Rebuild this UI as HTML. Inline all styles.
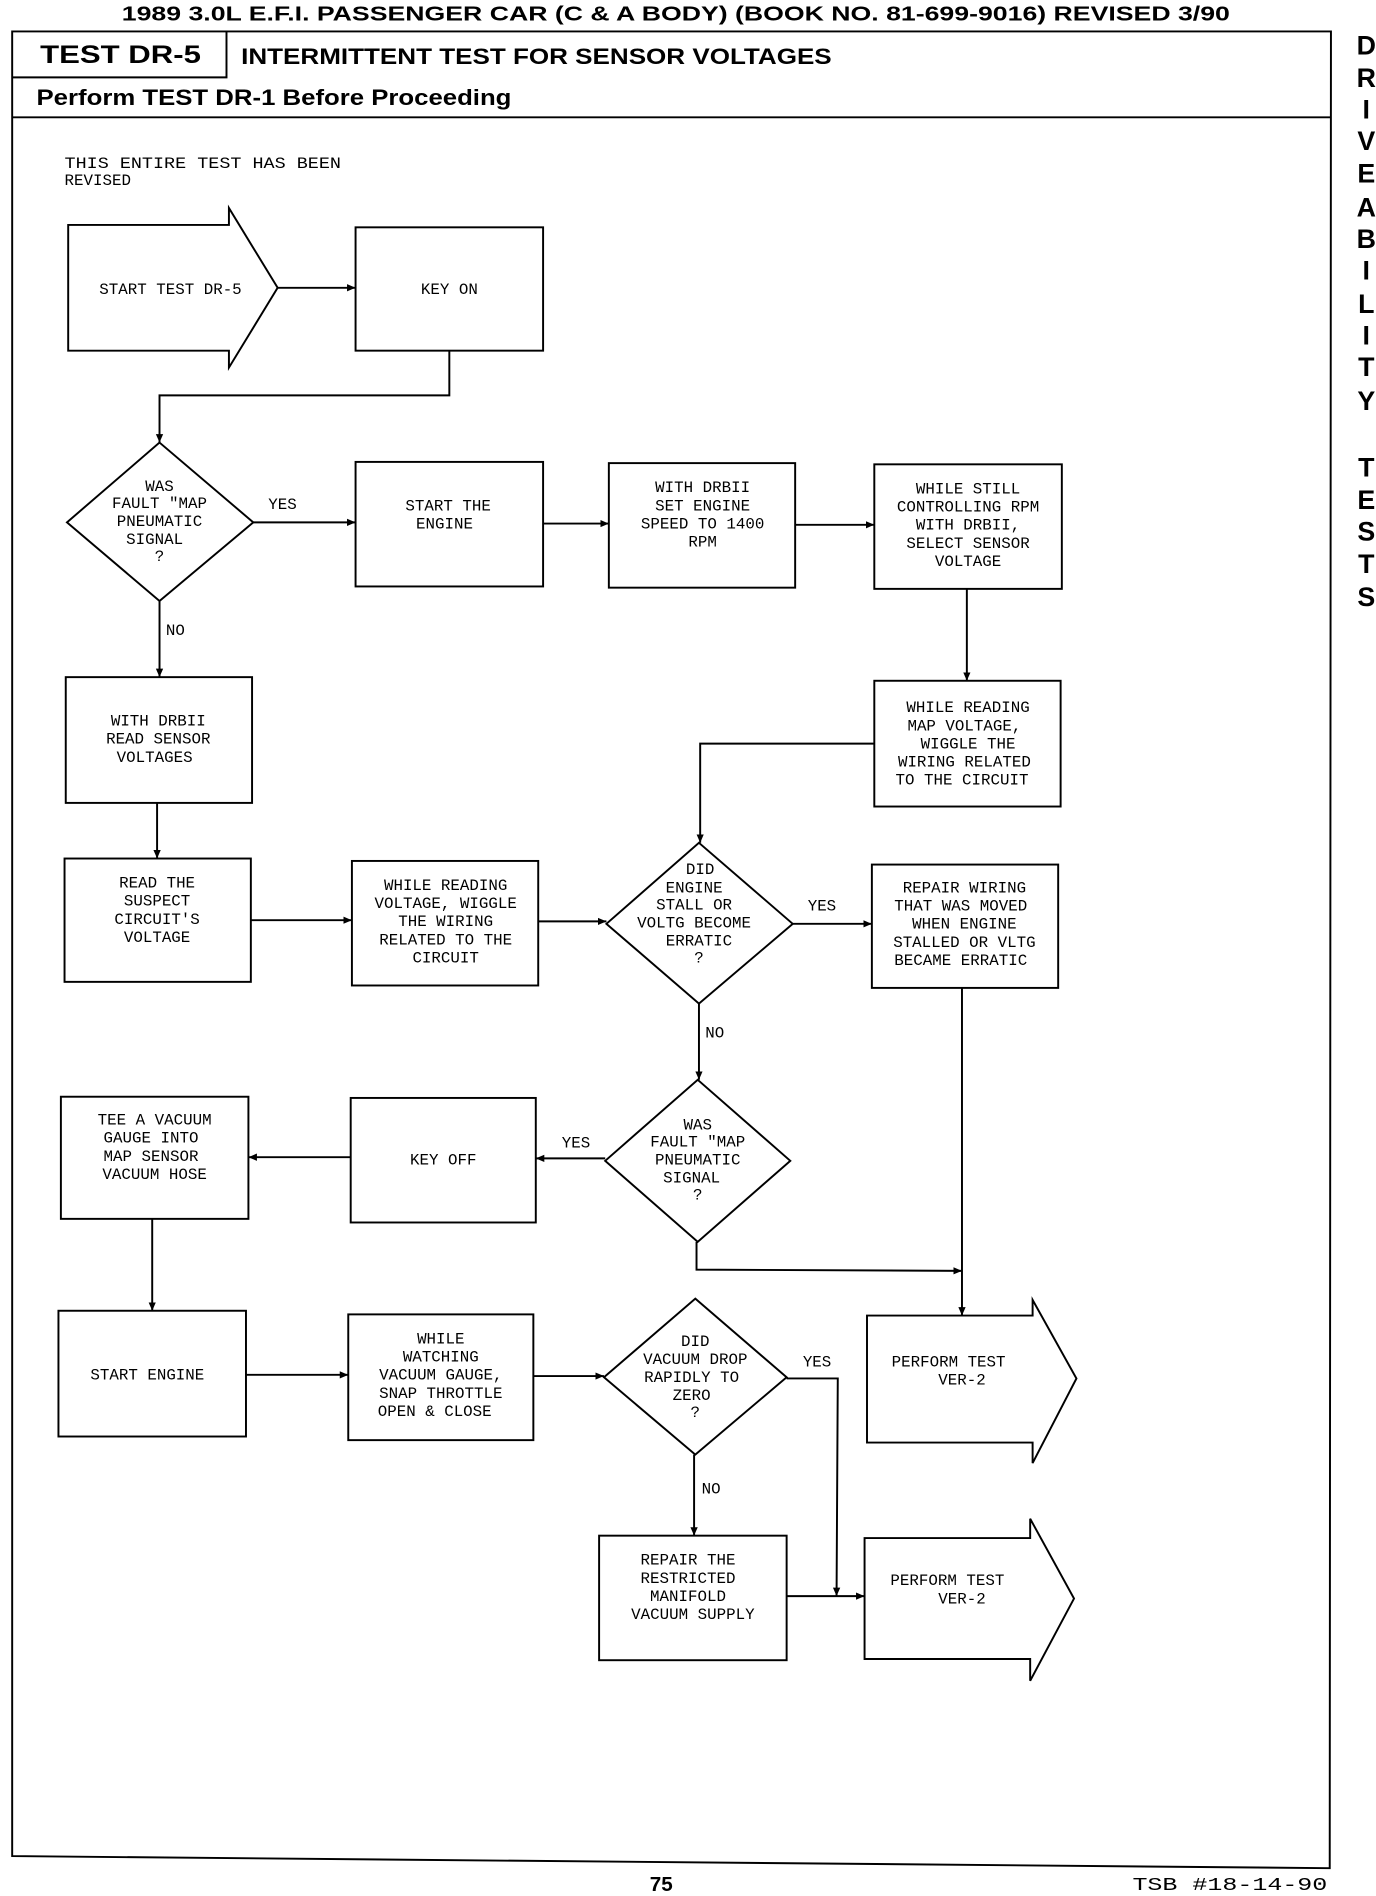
<!DOCTYPE html>
<html><head><meta charset="utf-8"><style>
html,body{margin:0;padding:0;background:#fff;}
svg{display:block;}
.t{font-family:"Liberation Mono",monospace;font-size:13px;text-anchor:middle;fill:#000;}
.h{font-family:"Liberation Sans",sans-serif;font-weight:bold;fill:#000;}
.s{stroke:#000;stroke-width:1.6;fill:none;}
</style></head><body>
<svg width="1376" height="1896" viewBox="0 0 1130 1568" preserveAspectRatio="none" xmlns="http://www.w3.org/2000/svg">
<defs><marker id="a" markerWidth="8" markerHeight="8" refX="7" refY="4" orient="auto" markerUnits="userSpaceOnUse"><path d="M0,1 L7,4 L0,7 z" fill="#000"/></marker></defs>
<text class="h" x="100" y="17" font-size="17" textLength="910" lengthAdjust="spacingAndGlyphs">1989 3.0L E.F.I. PASSENGER CAR (C &amp; A BODY)   (BOOK NO. 81-699-9016)   REVISED 3/90</text>
<path class="s" d="M10,26 L1093,26 L1092,1545 L10,1535 Z" stroke-width="2"/>
<path class="s" d="M10,64 L186,64 L186,26 M10,97 L1093,97" stroke-width="2"/>
<text class="h" x="33" y="52" font-size="21" textLength="132" lengthAdjust="spacingAndGlyphs">TEST DR-5</text>
<text class="h" x="198" y="53" font-size="18" textLength="485" lengthAdjust="spacingAndGlyphs">INTERMITTENT TEST FOR SENSOR VOLTAGES</text>
<text class="h" x="30" y="87" font-size="18" textLength="390" lengthAdjust="spacingAndGlyphs">Perform TEST DR-1 Before Proceeding</text>
<g class="h" font-size="22" text-anchor="middle">
<text x="1122" y="45">D</text><text x="1122" y="72">R</text><text x="1122" y="98">I</text><text x="1122" y="124">V</text><text x="1122" y="151">E</text><text x="1122" y="179">A</text><text x="1122" y="205">B</text><text x="1122" y="231">I</text><text x="1122" y="259">L</text><text x="1122" y="285">I</text><text x="1122" y="311">T</text><text x="1122" y="339">Y</text>
<text x="1122" y="394">T</text><text x="1122" y="421">E</text><text x="1122" y="447">S</text><text x="1122" y="474">T</text><text x="1122" y="501">S</text>
</g>
<text class="t" x="53" y="139" style="text-anchor:start" textLength="227" lengthAdjust="spacingAndGlyphs">THIS ENTIRE TEST HAS BEEN</text>
<text class="t" x="53" y="153" style="text-anchor:start">REVISED</text>
<g class="s">
<path d="M56,186 L188,186 L188,172 L228,238 L188,304 L188,290 L56,290 Z"/>
<rect x="292" y="188" width="154" height="102"/>
<path d="M131,366 L208,432 L131,497 L55,432 Z"/>
<rect x="292" y="382" width="154" height="103"/>
<rect x="500" y="383" width="153" height="103"/>
<rect x="718" y="384" width="154" height="103"/>
<rect x="718" y="563" width="153" height="104"/>
<rect x="54" y="560" width="153" height="104"/>
<rect x="53" y="710" width="153" height="102"/>
<rect x="289" y="712" width="153" height="103"/>
<path d="M574,697 L651,764 L574,830 L498,764 Z"/>
<rect x="716" y="715" width="153" height="102"/>
<path d="M573,893 L649,960 L573,1027 L497,960 Z"/>
<rect x="288" y="908" width="152" height="103"/>
<rect x="50" y="907" width="154" height="101"/>
<rect x="48" y="1084" width="154" height="104"/>
<rect x="286" y="1087" width="152" height="104"/>
<path d="M571,1074 L646,1139 L571,1203 L496,1139 Z"/>
<path d="M712,1088 L848,1088 L848,1075 L884,1140 L848,1210 L848,1193 L712,1193 Z"/>
<rect x="492" y="1270" width="154" height="103"/>
<path d="M710,1272 L846,1272 L846,1256 L882,1322 L846,1390 L846,1372 L710,1372 Z"/>
</g>
<g class="s" marker-end="url(#a)">
<path d="M228,238 L292,238"/>
<path d="M369,290 L369,327 L131,327 L131,366"/>
<path d="M208,432 L292,432"/>
<path d="M446,433 L500,433"/>
<path d="M653,434 L718,434"/>
<path d="M794,487 L794,563"/>
<path d="M718,615 L575,615 L575,697"/>
<path d="M131,497 L131,560"/>
<path d="M129,664 L129,710"/>
<path d="M206,761 L289,761"/>
<path d="M442,762 L498,762"/>
<path d="M651,764 L716,764"/>
<path d="M790,817 L790,1088"/>
<path d="M574,830 L574,893"/>
<path d="M497,958 L440,958"/>
<path d="M288,957 L204,957"/>
<path d="M572,1027 L572,1050 L790,1051"/>
<path d="M125,1008 L125,1084"/>
<path d="M202,1137 L286,1137"/>
<path d="M438,1138 L496,1138"/>
<path d="M646,1140 L688,1140 L687,1320"/>
<path d="M570,1203 L570,1270"/>
<path d="M646,1320 L710,1320"/>
</g>
<g class="t">
<text x="140" y="243">START TEST DR-5</text>
<text x="369" y="243">KEY ON</text>
<text x="131" y="406">WAS</text><text x="131" y="420">FAULT "MAP</text><text x="131" y="435">PNEUMATIC</text><text x="127" y="450">SIGNAL</text><text x="131" y="464">?</text>
<text x="232" y="421">YES</text>
<text x="368" y="422">START THE</text><text x="365" y="437">ENGINE</text>
<text x="577" y="407">WITH DRBII</text><text x="577" y="422">SET ENGINE</text><text x="577" y="437">SPEED TO 1400</text><text x="577" y="452">RPM</text>
<text x="795" y="408">WHILE STILL</text><text x="795" y="423">CONTROLLING RPM</text><text x="795" y="438">WITH DRBII,</text><text x="795" y="453">SELECT SENSOR</text><text x="795" y="468">VOLTAGE</text>
<text x="144" y="525">NO</text>
<text x="795" y="589">WHILE READING</text><text x="792" y="604">MAP VOLTAGE,</text><text x="795" y="619">WIGGLE THE</text><text x="792" y="634">WIRING RELATED</text><text x="790" y="649">TO THE CIRCUIT</text>
<text x="130" y="600">WITH DRBII</text><text x="130" y="615">READ SENSOR</text><text x="127" y="630">VOLTAGES</text>
<text x="129" y="734">READ THE</text><text x="129" y="749">SUSPECT</text><text x="129" y="764">CIRCUIT'S</text><text x="129" y="779">VOLTAGE</text>
<text x="366" y="736">WHILE READING</text><text x="366" y="751">VOLTAGE, WIGGLE</text><text x="366" y="766">THE WIRING</text><text x="366" y="781">RELATED TO THE</text><text x="366" y="796">CIRCUIT</text>
<text x="575" y="723">DID</text><text x="570" y="738">ENGINE</text><text x="570" y="752">STALL OR</text><text x="570" y="767">VOLTG BECOME</text><text x="574" y="782">ERRATIC</text><text x="574" y="796">?</text>
<text x="675" y="753">YES</text>
<text x="792" y="738">REPAIR WIRING</text><text x="789" y="753">THAT WAS MOVED</text><text x="792" y="768">WHEN ENGINE</text><text x="792" y="783">STALLED OR VLTG</text><text x="789" y="798">BECAME ERRATIC</text>
<text x="587" y="858">NO</text>
<text x="573" y="934">WAS</text><text x="573" y="948">FAULT "MAP</text><text x="573" y="963">PNEUMATIC</text><text x="568" y="978">SIGNAL</text><text x="573" y="992">?</text>
<text x="473" y="949">YES</text>
<text x="364" y="963">KEY OFF</text>
<text x="127" y="930">TEE A VACUUM</text><text x="124" y="945">GAUGE INTO</text><text x="124" y="960">MAP SENSOR</text><text x="127" y="975">VACUUM HOSE</text>
<text x="121" y="1141">START ENGINE</text>
<text x="362" y="1111">WHILE</text><text x="362" y="1126">WATCHING</text><text x="362" y="1141">VACUUM GAUGE,</text><text x="362" y="1156">SNAP THROTTLE</text><text x="357" y="1171">OPEN &amp; CLOSE</text>
<text x="571" y="1113">DID</text><text x="571" y="1128">VACUUM DROP</text><text x="568" y="1143">RAPIDLY TO</text><text x="568" y="1158">ZERO</text><text x="571" y="1172">?</text>
<text x="671" y="1130">YES</text>
<text x="779" y="1130">PERFORM TEST</text><text x="790" y="1145">VER-2</text>
<text x="584" y="1235">NO</text>
<text x="565" y="1294">REPAIR THE</text><text x="565" y="1309">RESTRICTED</text><text x="565" y="1324">MANIFOLD</text><text x="569" y="1339">VACUUM SUPPLY</text>
<text x="778" y="1311">PERFORM TEST</text><text x="790" y="1326">VER-2</text>
</g>
<text class="h" x="543" y="1564" font-size="17" text-anchor="middle">75</text>
<text class="t" x="930" y="1563" style="font-size:15px;text-anchor:start" textLength="160" lengthAdjust="spacingAndGlyphs">TSB #18-14-90</text>
</svg>
</body></html>
